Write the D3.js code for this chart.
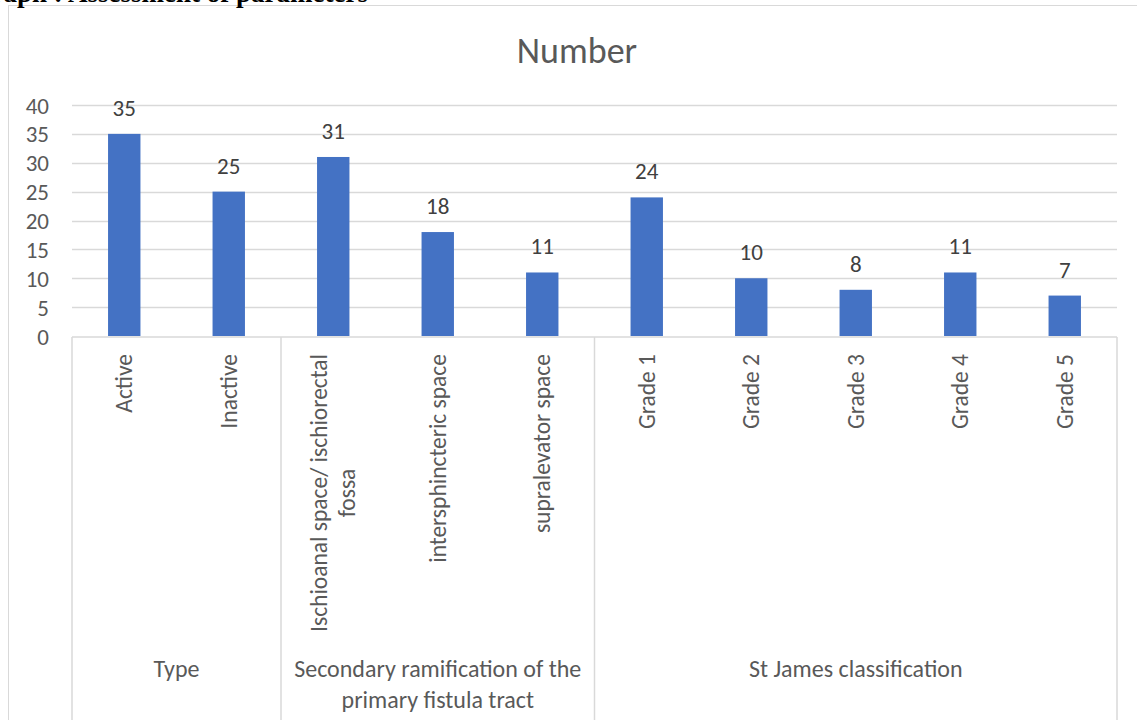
<!DOCTYPE html>
<html><head><meta charset="utf-8">
<script src="https://cdn.jsdelivr.net/npm/d3@7"></script>
<style>
html,body{margin:0;padding:0;background:#fff;}
svg{display:block;}
text{font-family:Calibri,Carlito,Lato,sans-serif;fill:#595959;}
</style></head>
<body>
<svg id="c" width="1137" height="720"></svg>
<script>
const categories = ["Active","Inactive","Ischioanal space/ ischiorectal fossa","intersphincteric space","supralevator space","Grade 1","Grade 2","Grade 3","Grade 4","Grade 5"];
const categoryLines = [["Active"],["Inactive"],["Ischioanal space/ ischiorectal","fossa"],["intersphincteric space"],["supralevator space"],["Grade 1"],["Grade 2"],["Grade 3"],["Grade 4"],["Grade 5"]];
const values = [35,25,31,18,11,24,10,8,11,7];
const groups = ["Type","Secondary ramification of the primary fistula tract","St James classification"];
const groupLines = [["Type"],["Secondary ramification of the","primary fistula tract"],["St James classification"]];
const groupSizes = [2,3,5];
const yTicks = [0,5,10,15,20,25,30,35,40];
const title = "Number";
const caption = "Graph : Assessment of parameters";

const svg = d3.select("#c");
const L = 72, R = 1117, T = 105, B = 336;

// outer chart border
svg.append("rect").attr("x",8.5).attr("y",5.5).attr("width",1140).attr("height",730)
  .attr("fill","none").attr("stroke","#d9d9d9").attr("stroke-width",1);

// caption (cut at top)
svg.append("text").attr("x",368).attr("y",2).attr("text-anchor","end")
  .style("font-family","'Liberation Serif','Times New Roman',serif").style("font-weight","bold")
  .style("font-size","27px").style("fill","#000").text(caption);

const x = d3.scaleBand().domain(categories).range([L,R]).paddingInner(0.69).paddingOuter(0.345);
const y = d3.scaleLinear().domain([0,40]).range([B,T]);

// gridlines
svg.append("g").selectAll("line").data(yTicks.filter(d=>d>0)).join("line")
  .attr("x1",L).attr("x2",R).attr("y1",d=>Math.round(y(d))+0.5).attr("y2",d=>Math.round(y(d))+0.5)
  .attr("stroke","#d9d9d9").attr("stroke-width",1.3);

// y axis labels
const yAxis = d3.axisLeft(y).tickValues(yTicks).tickSize(0).tickPadding(0);
const ga = svg.append("g").attr("transform",`translate(49,0)`).call(yAxis);
ga.select(".domain").remove();
ga.selectAll("text").style("font-size","23px").style("font-family","Calibri,Carlito,Lato,sans-serif").attr("fill","#595959").attr("dy","0.35em");

// bars
svg.append("g").selectAll("rect").data(values).join("rect")
  .attr("x",(d,i)=>x(categories[i])).attr("width",x.bandwidth())
  .attr("y",d=>y(d)).attr("height",d=>B-y(d)).attr("fill","#4472c4");

// data labels
svg.append("g").selectAll("text").data(values).join("text")
  .attr("x",(d,i)=>x(categories[i])+x.bandwidth()/2).attr("y",d=>y(d)-18)
  .attr("text-anchor","middle").style("font-size","23px").style("fill","#404040").text(d=>d);

// x axis line and separators
const step = x.step();
svg.append("line").attr("x1",L).attr("x2",R).attr("y1",B+1).attr("y2",B+1).attr("stroke","#d9d9d9").attr("stroke-width",1.5);
let cum = [0]; groupSizes.forEach(s=>cum.push(cum[cum.length-1]+s));
svg.append("g").selectAll("line").data(cum).join("line")
  .attr("x1",d=>L+d*step).attr("x2",d=>L+d*step).attr("y1",B+1).attr("y2",720)
  .attr("stroke","#d9d9d9").attr("stroke-width",1.5);

// category labels (rotated)
const catG = svg.append("g");
categoryLines.forEach((lines,i)=>{
  const cx = x(categories[i])+x.bandwidth()/2;
  const g = catG.append("g");
  const lh = 28;
  const n = lines.length;
  const t = g.append("text").attr("text-anchor","middle").style("font-size","23.5px")
    .attr("dominant-baseline","central");
  lines.forEach((ln,j)=>{
    t.append("tspan").attr("x",0).attr("y",(j-(n-1)/2)*lh).text(ln);
  });
  const w = d3.max(t.selectAll("tspan").nodes(), nd=>nd.getComputedTextLength());
  g.attr("transform",`translate(${cx},${354 + w/2}) rotate(-90)`);
});

// group labels
groupLines.forEach((lines,i)=>{
  const cx = L + (cum[i]+groupSizes[i]/2)*step;
  const t = svg.append("text").attr("text-anchor","middle").style("font-size","24px");
  lines.forEach((ln,j)=>t.append("tspan").attr("x",cx).attr("y",677+j*31).text(ln));
});

// title
svg.append("text").attr("x",577).attr("y",63).attr("text-anchor","middle").style("font-size","36px").text(title);
</script>
</body></html>
